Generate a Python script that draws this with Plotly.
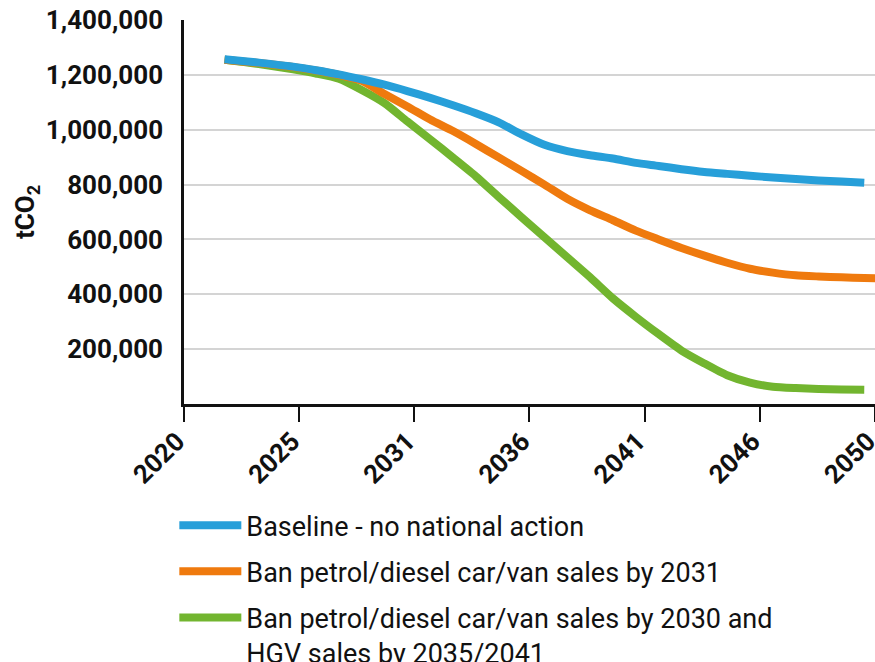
import numpy as np
import plotly.graph_objects as go

years = list(range(2022, 2051))
years_orange = list(range(2022, 2052))

baseline = [1257000, 1249000, 1240000, 1230000, 1217000, 1202000, 1184000, 1164000,
            1141000, 1116000, 1089000, 1060000, 1027000, 983000, 945000, 922000,
            907000, 895000, 879000, 868000, 856000, 846000, 839000, 832000, 826000,
            820000, 815000, 811000, 807000]
ban_2031 = [1255000, 1247000, 1239000, 1229000, 1216000, 1200000, 1178000, 1130000,
            1085000, 1037000, 995000, 948000, 899000, 850000, 800000, 748000, 706000,
            670000, 632000, 600000, 569000, 541000, 515000, 493000, 479000, 469000,
            465000, 462000, 459000, 457000]
ban_2030_hgv = [1255000, 1245000, 1233000, 1220000, 1205000, 1186000, 1145000, 1097000,
                1030000, 965000, 898000, 830000, 755000, 681000, 608000, 535000, 462000,
                385000, 318000, 255000, 195000, 148000, 105000, 78000, 63000, 58000,
                55000, 53000, 52000]

x_tick_labels = ["2020", "2025", "2031", "2036", "2041", "2046", "2050"]
y_tick_values = [200000, 400000, 600000, 800000, 1000000, 1200000, 1400000]

names = ["Baseline - no national action",
         "Ban petrol/diesel car/van sales by 2031",
         "Ban petrol/diesel car/van sales by 2030 and<br>HGV sales by 2035/2041"]
colors = ["#279fd9", "#ef7a0e", "#72b52f"]

x0, x1 = 2020.224, 2050.47
tickvals = list(np.linspace(x0, x1 - 0.005, 7))

fig = go.Figure()
series = [(years, baseline), (years_orange, ban_2031), (years, ban_2030_hgv)]
# draw order: green, orange, blue on top
for idx in [2, 1, 0]:
    xs, ys = series[idx]
    fig.add_trace(go.Scatter(
        x=xs, y=ys, mode="lines", name=names[idx], legendgroup="g" + str(idx),
        legendrank=idx + 1,
        line=dict(color=colors[idx], width=8, shape="spline", smoothing=0.6),
        hoverinfo="skip"))

tick_font = dict(family="Roboto", size=26, color="#111111", weight="bold")

fig.update_layout(
    width=875, height=662,
    margin=dict(l=184, r=0, t=20, b=258, autoexpand=False),
    paper_bgcolor="white", plot_bgcolor="white",
    font=dict(family="Roboto", color="#111111"),
    showlegend=True,
    legend=dict(orientation="v", x=-0.014, xanchor="left",
                yref="container", y=0.243, yanchor="top",
                font=dict(family="Roboto", size=27, color="#111111"),
                tracegroupgap=8, traceorder="grouped", itemwidth=62,
                valign="top",
                bgcolor="rgba(0,0,0,0)"),
    xaxis=dict(range=[x0, x1], tickmode="array", tickvals=tickvals,
               ticktext=x_tick_labels, tickangle=-45, automargin=False,
               ticklabeloverflow="allow", ticklabelshift=-7, ticklabelstandoff=-6,
               tickfont=tick_font,
               ticks="outside", ticklen=15, tickwidth=1.5, tickcolor="#111111",
               showline=True, linecolor="#111111", linewidth=2.5,
               showgrid=False, zeroline=False),
    yaxis=dict(range=[0, 1400000], tickmode="array", tickvals=y_tick_values,
               tickformat=",", automargin=False,
               tickfont=tick_font,
               ticks="outside", ticklen=13, tickcolor="rgba(0,0,0,0)",
               showline=True, linecolor="#111111", linewidth=2.5,
               showgrid=True, gridcolor="#d4d4d4", gridwidth=1.5,
               zeroline=False,
               title=dict(text="tCO<sub>2</sub>", standoff=4,
                          font=dict(family="Roboto", size=26, color="#111111", weight="bold"))),
)

fig.write_html("out.html", config={"displayModeBar": False},
               post_script="document.body.style.margin='0';document.body.style.overflow='hidden';")
